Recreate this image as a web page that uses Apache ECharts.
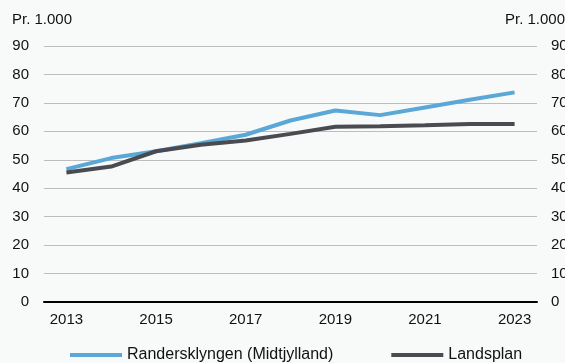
<!DOCTYPE html>
<html>
<head>
<meta charset="utf-8">
<script src="https://cdn.jsdelivr.net/npm/echarts@6/dist/echarts.min.js"></script>
<style>
html,body{margin:0;padding:0;background:#f8f9f9;}
#main{width:565px;height:363px;}
</style>
</head>
<body>
<div id="main"></div>
<script>
// data
var years = ['2013','2014','2015','2016','2017','2018','2019','2020','2021','2022','2023'];
var randers = [46.7, 50.6, 53.0, 55.8, 58.8, 63.8, 67.3, 65.7, 68.4, 71.1, 73.7];
var landsplan = [45.5, 47.6, 53.0, 55.3, 56.8, 59.1, 61.6, 61.8, 62.1, 62.6, 62.6];
var seriesNames = ['Randersklyngen (Midtjylland)', 'Landsplan'];
var unitLabel = 'Pr. 1.000';

var myChart = echarts.init(document.getElementById('main'));
var font = 'Liberation Sans, Arial, sans-serif';

var option = {
    backgroundColor: '#f8f9f9',
    textStyle: { fontFamily: font },
    grid: { left: 44, right: 28, top: 46, bottom: 61, outerBoundsMode: 'none', containLabel: false },
    graphic: [
        { type: 'text', left: 12, top: 12, style: { text: unitLabel, font: '15px ' + font, fill: '#111' } },
        { type: 'text', left: 505, top: 12, style: { text: unitLabel, font: '15px ' + font, fill: '#111' } }
    ],
    legend: {
        bottom: -5,
        left: 65,
        itemWidth: 52,
        itemHeight: 4,
        itemGap: 58,
        icon: 'rect',
        textStyle: { fontSize: 16, color: '#111', fontFamily: font },
        data: seriesNames
    },
    xAxis: {
        type: 'category',
        data: years,
        boundaryGap: true,
        axisLine: { lineStyle: { color: '#000', width: 2 } },
        axisTick: { interval: 0, length: 5, lineStyle: { color: '#000', width: 2 } },
        axisLabel: { interval: 1, fontSize: 15, color: '#111', margin: 10, fontFamily: font }
    },
    yAxis: [{
        type: 'value', min: 0, max: 90, interval: 10,
        axisLine: { show: false }, axisTick: { show: false },
        axisLabel: { fontSize: 15, color: '#111', margin: 15, fontFamily: font },
        splitLine: { lineStyle: { color: '#bdbdbd', width: 1 } }
    }, {
        type: 'value', min: 0, max: 90, interval: 10, position: 'right',
        axisLine: { show: false }, axisTick: { show: false },
        axisLabel: { fontSize: 15, color: '#111', margin: 14, fontFamily: font },
        splitLine: { show: false }
    }],
    series: [{
        name: seriesNames[0],
        type: 'line',
        data: randers,
        symbol: 'none',
        lineStyle: { width: 4, color: '#5aa8d8' },
        itemStyle: { color: '#5aa8d8' }
    }, {
        name: seriesNames[1],
        type: 'line',
        data: landsplan,
        symbol: 'none',
        lineStyle: { width: 4, color: '#4a4b50' },
        itemStyle: { color: '#4a4b50' }
    }]
};

myChart.setOption(option);
</script>
</body>
</html>
